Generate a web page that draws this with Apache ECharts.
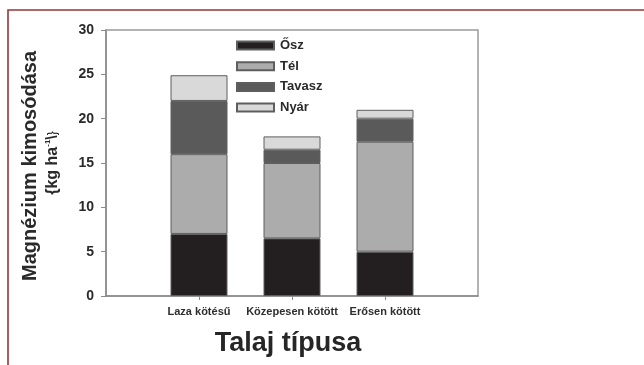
<!DOCTYPE html>
<html>
<head>
<meta charset="utf-8">
<script src="https://cdn.jsdelivr.net/npm/echarts@6/dist/echarts.min.js"></script>
<style>
html,body{margin:0;padding:0;background:#fff;}
#chart{width:644px;height:365px;}
</style>
</head>
<body>
<div id="chart"></div>
<script>
// Data
const categories = ['Laza kötésű', 'Közepesen kötött', 'Erősen kötött'];
const osz    = [7.0, 6.5, 5.0];
const tel    = [9.0, 8.5, 12.4];
const tavasz = [6.0, 1.5, 2.6];
const nyar   = [2.9, 1.5, 1.0];
const seriesNames = ['Ősz', 'Tél', 'Tavasz', 'Nyár'];
const yTicks = [0, 5, 10, 15, 20, 25, 30];

const colors = ['#231f20', '#acacac', '#5a5a5a', '#d9d9d9'];
const FONT = '"Liberation Sans", Arial, sans-serif';

// padded category axis: empty slot on each side of the 3 soil types
const axisCats = [''].concat(categories, ['']);
const pad = arr => [null].concat(arr, [null]);
const isReal = idx => idx > 0 && idx < axisCats.length - 1;

const chart = echarts.init(document.getElementById('chart'), null, {renderer: 'canvas'});

const seriesData = [osz, tel, tavasz, nyar];
const series = seriesData.map((d, i) => ({
  name: seriesNames[i],
  type: 'bar',
  stack: 'total',
  barWidth: 57,
  data: pad(d),
  itemStyle: {color: colors[i], borderColor: '#5e5e5e', borderWidth: 1},
  emphasis: {disabled: true}
}));

chart.setOption({
  animation: false,
  backgroundColor: '#ffffff',
  grid: {
    left: 106, top: 30, width: 372, height: 266,
    show: true, borderColor: '#9a9a9a', borderWidth: 1.5, backgroundColor: 'transparent'
  },
  legend: {
    data: seriesNames,
    orient: 'vertical',
    left: 236, top: 39, padding: 0,
    itemWidth: 37, itemHeight: 8, itemGap: 7.7,
    icon: 'rect',
    textStyle: {fontFamily: FONT, fontWeight: 'bold', fontSize: 13, color: '#2a2a2a', padding: [0, 0, 0, 1]},
    selectedMode: false
  },
  xAxis: {
    type: 'category',
    data: axisCats,
    boundaryGap: false,
    axisLine: {lineStyle: {color: '#8a8a8a', width: 1.5}},
    axisTick: {show: true, length: 4, interval: idx => isReal(idx), lineStyle: {color: '#8a8a8a'}},
    axisLabel: {
      interval: idx => isReal(idx),
      margin: 10,
      fontFamily: FONT, fontWeight: 'bold', fontSize: 11, color: '#2e2e2e'
    },
    splitLine: {show: false}
  },
  yAxis: {
    type: 'value',
    min: yTicks[0], max: yTicks[yTicks.length - 1], interval: 5,
    axisLine: {show: true, lineStyle: {color: '#8a8a8a', width: 1.5}},
    axisTick: {show: true, length: 5, lineStyle: {color: '#8a8a8a'}},
    axisLabel: {margin: 12, fontFamily: FONT, fontWeight: 'bold', fontSize: 14, color: '#2a2a2a'},
    splitLine: {show: false}
  },
  series: series,
  graphic: [
    {
      type: 'polyline', silent: true, z: 100,
      shape: {points: [[8, 365], [8, 10], [644, 10]]},
      style: {fill: null, stroke: '#963636', lineWidth: 1.6}
    },
    {
      type: 'text', silent: true,
      x: 30, y: 166, rotation: Math.PI / 2,
      style: {
        text: 'Magnézium kimosódása',
        fontFamily: FONT, fontWeight: 'bold', fontSize: 20,
        fill: '#2a2a2a', align: 'center', verticalAlign: 'middle'
      }
    },
    {
      type: 'text', silent: true,
      x: 53, y: 163, rotation: Math.PI / 2,
      style: {
        text: '{a|{kg ha}{s|-1}{a|\\}}',
        rich: {
          a: {fontFamily: FONT, fontWeight: 'bold', fontSize: 16, fill: '#2a2a2a', lineHeight: 18},
          s: {fontFamily: FONT, fontWeight: 'bold', fontSize: 8, fill: '#2a2a2a', verticalAlign: 'top', lineHeight: 18}
        },
        align: 'center', verticalAlign: 'middle'
      }
    },
    {
      type: 'text', silent: true,
      x: 288, y: 344,
      style: {
        text: 'Talaj típusa',
        fontFamily: FONT, fontWeight: 'bold', fontSize: 27,
        fill: '#262626', align: 'center', verticalAlign: 'middle'
      }
    }
  ]
});
</script>
</body>
</html>
